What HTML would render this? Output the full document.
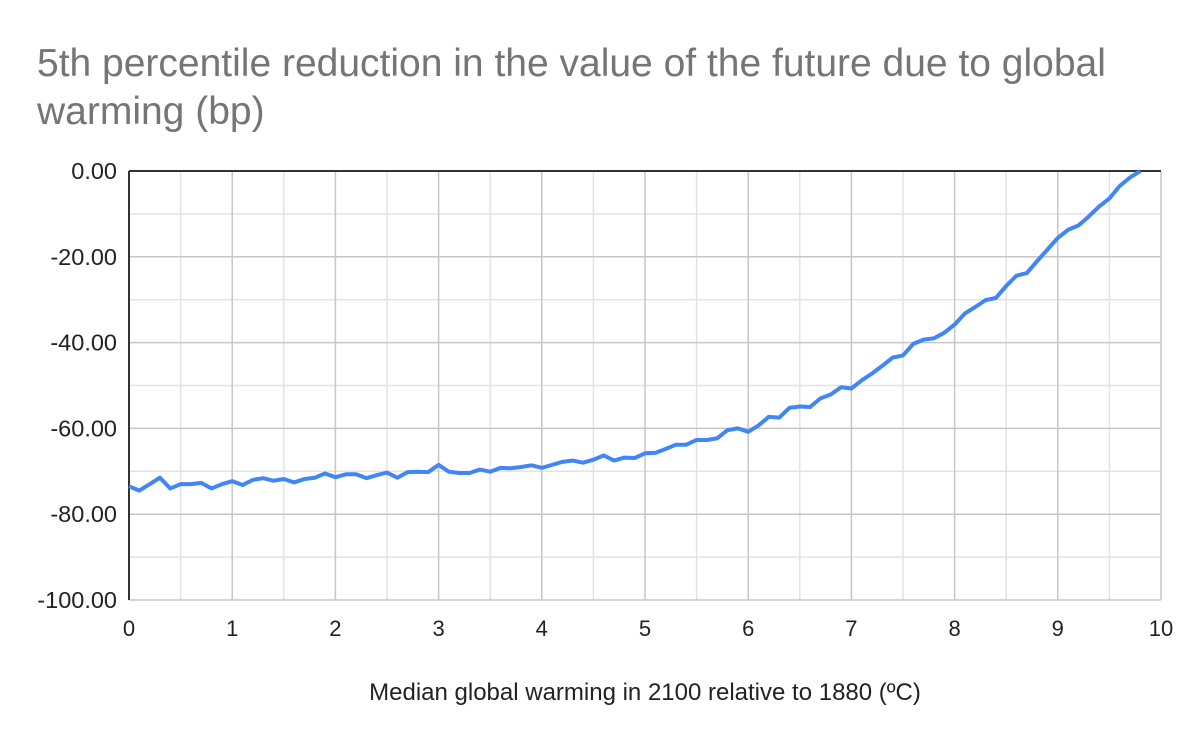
<!DOCTYPE html>
<html><head><meta charset="utf-8"><style>
body{margin:0;background:#fff;font-family:"Liberation Sans",Arial,sans-serif}
</style></head><body>
<svg width="1200" height="742" xmlns="http://www.w3.org/2000/svg">
<rect width="1200" height="742" fill="#fff"/>
<text x="37" y="76" font-size="39" fill="#757575">5th percentile reduction in the value of the future due to global</text>
<text x="37" y="124" font-size="39" fill="#757575">warming (bp)</text>
<g id="grid"></g>
<g id="axes"></g>
<polyline id="line" fill="none" stroke="#4285f4" stroke-width="4" stroke-linejoin="round"/>
<text x="645" y="700" font-size="24" text-anchor="middle" fill="#222">Median global warming in 2100 relative to 1880 (ºC)</text>
</svg>
<script>
const xTicks=[0,1,2,3,4,5,6,7,8,9,10];
const yTicks=[0,-20,-40,-60,-80,-100];
const yTickLabels=["0.00","-20.00","-40.00","-60.00","-80.00","-100.00"];
const values=[-73.5,-74.5,-73,-71.5,-74,-73,-73,-72.7,-74,-73,-72.3,-73.2,-72,-71.6,-72.2,-71.8,-72.6,-71.8,-71.5,-70.5,-71.4,-70.7,-70.7,-71.6,-70.9,-70.3,-71.5,-70.2,-70.1,-70.2,-68.5,-70.1,-70.4,-70.4,-69.6,-70.1,-69.2,-69.3,-69,-68.6,-69.2,-68.5,-67.8,-67.5,-68,-67.3,-66.3,-67.5,-66.8,-66.9,-65.8,-65.7,-64.8,-63.8,-63.8,-62.7,-62.7,-62.3,-60.4,-60,-60.8,-59.3,-57.3,-57.5,-55.2,-54.9,-55,-53,-52.1,-50.4,-50.7,-48.8,-47.2,-45.4,-43.5,-43,-40.3,-39.3,-39,-37.7,-35.8,-33.2,-31.7,-30.1,-29.6,-26.8,-24.4,-23.8,-21,-18.3,-15.6,-13.7,-12.7,-10.6,-8.3,-6.4,-3.5,-1.5,0];
const xs=values.map((v,i)=>i/10);
const X0=129,X1=1161,Y0=171,Y1=600;
const sx=x=>X0+(x-0)/10*(X1-X0);
const sy=y=>Y0+(0-y)/100*(Y1-Y0);
const NS="http://www.w3.org/2000/svg";
const grid=document.getElementById('grid'),axes=document.getElementById('axes');
function ln(p,x1,y1,x2,y2,c,w){const l=document.createElementNS(NS,'line');l.setAttribute('x1',x1);l.setAttribute('y1',y1);l.setAttribute('x2',x2);l.setAttribute('y2',y2);l.setAttribute('stroke',c);l.setAttribute('stroke-width',w);p.appendChild(l);return l;}
for(let x=0.5;x<10;x+=1){const l=ln(grid,sx(x),Y0,sx(x),Y1,'#e3e3e3',1.5);

}
for(let y=-10;y>-100;y-=20){const l=ln(grid,X0,sy(y),X1,sy(y),'#e3e3e3',1.5);

}
xTicks.forEach(t=>{if(t>0){const l=ln(grid,sx(t),Y0,sx(t),Y1,'#c6c6c6',1.5);

}
const tx=document.createElementNS(NS,'text');tx.setAttribute('x',sx(t));tx.setAttribute('y',636);tx.setAttribute('font-size','22');tx.setAttribute('text-anchor','middle');tx.setAttribute('fill','#222');tx.textContent=t;


axes.appendChild(tx);});
yTicks.forEach((t,i)=>{if(t<0){const l=ln(grid,X0,sy(t),X1,sy(t),'#c6c6c6',1.5);

}
const tx=document.createElementNS(NS,'text');tx.setAttribute('x',117);tx.setAttribute('y',sy(t)+8);tx.setAttribute('font-size','23.5');tx.setAttribute('text-anchor','end');tx.setAttribute('fill','#222');tx.textContent=yTickLabels[i];


axes.appendChild(tx);});
const za=ln(axes,X0,sy(0),X1,sy(0),'#333',2);


const ya=ln(axes,X0,Y0,X0,Y1,'#333',2);


document.getElementById('line').setAttribute('points',values.map((v,i)=>sx(xs[i])+','+sy(v)).join(' '));
</script>
</body></html>
